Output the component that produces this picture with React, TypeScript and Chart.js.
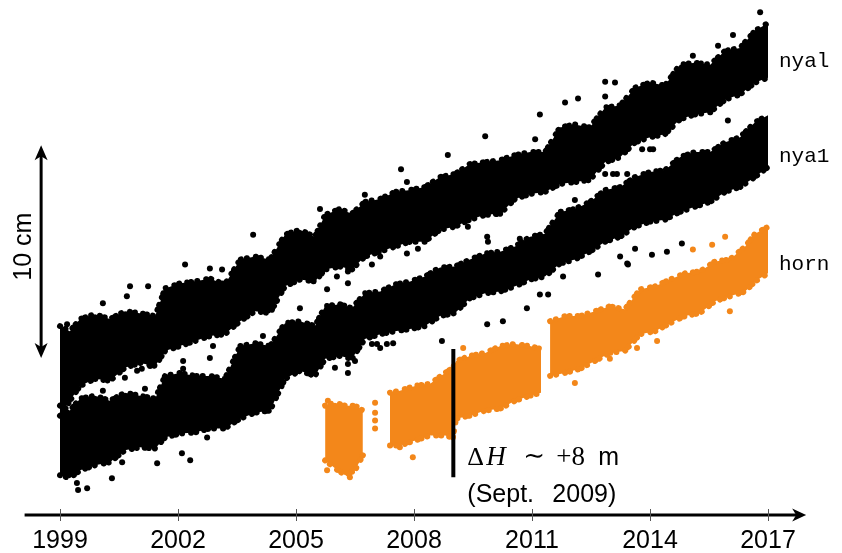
import { useEffect, useRef } from 'react';
import { Chart, registerables } from 'chart.js';

Chart.register(...registerables);

// ---- axis / labels ----
const tickYears = [1999, 2002, 2005, 2008, 2011, 2014, 2017];
const seriesNames = ['nyal', 'nya1', 'horn'];

// ---- sampled cloud envelopes (height in cm) for the two Ny-Ålesund stations ----
const stationYears = [
  1999.0, 1999.25, 1999.51, 1999.89, 2000.27, 2000.65, 2001.03, 2001.42, 2001.67, 2002.05,
  2002.43, 2002.81, 2003.19, 2003.58, 2003.96, 2004.34, 2004.72, 2005.1, 2005.48, 2005.74,
  2006.12, 2006.42, 2006.75, 2007.14, 2007.52, 2007.9, 2008.28, 2008.66, 2009.04, 2009.42,
  2009.81, 2010.19, 2010.57, 2010.95, 2011.33, 2011.71, 2012.09, 2012.47, 2012.86, 2013.24,
  2013.62, 2014.0, 2014.38, 2014.76, 2015.14, 2015.53, 2015.91, 2016.29, 2016.67, 2017.0,
];
const nyalTop = [
  8.88, 8.64, 9.21, 9.44, 9.21, 9.58, 9.49, 9.35, 10.65, 10.89,
  10.98, 11.12, 10.84, 12.01, 12.15, 12.01, 13.18, 13.41, 13.08, 14.11,
  14.39, 14.16, 14.72, 14.86, 15.19, 15.28, 15.42, 15.89, 16.03, 16.5,
  16.59, 16.68, 16.92, 17.06, 17.06, 18.22, 18.36, 18.22, 19.16, 19.25,
  20.09, 20.33, 20.19, 21.17, 21.26, 21.17, 21.82, 21.96, 22.76, 23.13,
];
const nyalBottom = [
  4.67, 5.37, 6.07, 6.4, 6.31, 6.92, 7.15, 7.01, 7.71, 7.94,
  8.18, 8.41, 8.5, 9.11, 9.58, 9.49, 10.75, 11.07, 10.98, 11.54,
  11.68, 11.54, 12.15, 12.38, 12.62, 12.85, 12.85, 13.41, 13.55, 13.88,
  14.11, 14.16, 14.86, 15.09, 15.19, 15.56, 15.65, 15.75, 16.59, 16.82,
  17.52, 17.76, 17.9, 18.6, 18.83, 18.93, 19.53, 19.77, 20.33, 20.56,
];
const nya1Top = [
  5.14, 4.91, 5.47, 5.61, 5.37, 5.75, 5.61, 5.47, 6.54, 6.68,
  6.54, 6.54, 6.4, 7.94, 8.08, 7.94, 9.02, 9.11, 8.88, 9.81,
  9.91, 9.72, 10.42, 10.51, 10.84, 10.98, 11.21, 11.64, 11.68, 12.01,
  12.29, 12.38, 12.62, 13.08, 13.22, 14.25, 14.39, 14.72, 15.28, 15.42,
  15.89, 16.12, 16.21, 16.82, 17.06, 17.06, 17.52, 17.76, 18.46, 18.79,
];
const nya1Bottom = [
  1.87, 1.73, 2.1, 2.34, 2.48, 3.04, 3.18, 3.13, 3.64, 3.83,
  3.88, 4.07, 4.07, 4.53, 4.81, 4.91, 6.4, 6.78, 6.54, 7.34,
  7.48, 7.34, 8.27, 8.5, 8.64, 8.74, 8.88, 9.35, 9.49, 10.19,
  10.42, 10.51, 10.75, 11.07, 11.21, 11.82, 12.01, 12.38, 12.85, 13.08,
  13.55, 13.79, 13.88, 14.25, 14.49, 14.72, 15.19, 15.42, 15.89, 16.36,
];

// ---- horn (null = data gap) ----
const hornYears = [
  2005.74, 2005.99, 2006.25, 2006.5, 2006.7, null,
  2007.39, 2007.64, 2008.03, 2008.41, 2008.79, 2008.99, 2009.07, 2009.42, 2009.81, 2010.19, 2010.57, 2010.95, 2011.23, null,
  2011.46, 2011.84, 2012.22, 2012.6, 2012.98, 2013.36, 2013.75, 2014.13, 2014.51, 2014.89, 2015.27, 2015.65, 2016.03, 2016.42, 2016.67, 2017.0,
];
const hornTop = [
  5.14, 5.28, 5.14, 5.14, 4.91, null,
  5.75, 5.84, 6.07, 6.17, 6.68, 6.92, 7.24, 7.48, 7.62, 7.94, 8.04, 7.94, 7.8, null,
  9.11, 9.35, 9.35, 9.58, 9.81, 9.67, 10.61, 10.75, 11.07, 11.36, 11.45, 11.92, 12.01, 12.62, 13.22, 13.55,
];
const hornBottom = [
  2.57, 2.2, 1.87, 2.1, 2.8, null,
  3.27, 3.27, 3.5, 3.74, 3.74, 3.64, 4.53, 4.67, 4.91, 5.0, 5.37, 5.61, 5.75, null,
  6.54, 6.68, 6.87, 7.24, 7.62, 7.71, 8.5, 8.64, 9.02, 9.35, 9.49, 10.05, 10.28, 10.51, 10.98, 11.36,
];

// ---- scattered points outside the dense clouds ----
const nyalOutYears = [
  2001.08, 2000.96, 2001.29, 2000.65, 2001.16, 2002.13, 2002.13, 2002.81, 2002.89, 2000.19,
  2000.09, 2000.78, 2001.24, 2000.09, 2000.7, 1999.18, 2002.18, 2002.81, 2003.12, 2003.91,
  2007.67, 2007.82, 2006.75, 2005.61, 2005.79, 2006.04, 2006.32, 2006.32, 2006.32, 2006.93,
  2007.14, 2007.82, 2008.1, 2005.1, 2009.81, 2008.86, 2011.08, 2009.37, 2009.86, 2010.69,
  2012.09, 2013.06, 2012.86, 2012.86, 2011.84, 2012.17, 2011.2, 2016.8, 2016.11, 2015.73,
  2015.09, 2013.11, 2014.0, 2014.08, 2015.98, 2013.8,
];
const nyalOutCm = [
  6.87, 6.78, 7.01, 6.45, 5.93, 7.24, 6.87, 7.38, 7.94, 6.45,
  5.84, 10.75, 10.75, 9.95, 10.28, 8.97, 11.78, 11.59, 11.54, 13.18,
  16.26, 15.65, 15.05, 14.39, 10.61, 11.21, 11.82, 11.45, 10.89, 11.78,
  12.15, 12.29, 12.52, 9.72, 17.8, 16.92, 17.66, 13.55, 13.08, 12.99,
  14.81, 16.03, 20.37, 19.67, 19.39, 19.58, 18.83, 23.64, 22.57, 22.06,
  21.59, 20.33, 17.2, 17.2, 18.55, 17.2,
];
const nya1OutYears = [
  1999.43, 1999.46, 1999.69, 2000.32, 2000.58, 2001.47, 2002.1, 2002.31, 2002.74, 2005.99,
  2006.32, 2006.32, 2006.5, 2007.06, 2007.31, 2007.47, 2004.16, 2004.34, 2008.71, 2009.86,
  2010.26, 2011.2, 2011.41, 2012.68, 2011.79, 2009.88, 2013.24, 2013.42, 2014.43, 2014.05,
  2013.62, 2014.81, 2012.86, 2013.16, 2013.42, 2013.44, 2010.87, 2006.93, 2007.14,
];
const nya1OutCm = [
  1.5, 1.17, 1.26, 1.73, 2.48, 2.43, 2.9, 2.57, 3.64, 6.92,
  7.1, 6.68, 7.24, 8.04, 8.04, 8.08, 8.41, 7.85, 8.18, 8.97,
  9.11, 10.37, 10.37, 11.31, 11.21, 12.85, 12.15, 11.82, 12.38, 12.24,
  12.52, 12.76, 16.03, 16.03, 16.03, 11.78, 9.72, 8.04, 7.85,
];
const hornOutYears = [
  2012.09, 2013.67, 2012.98, 2014.18, 2016.03, 2015.58, 2015.91, 2015.09, 2005.81, 2007.97,
  2007.64, 2006.37, 2005.79, 2007.01, 2007.01, 2007.01, 2007.01, 2009.25,
];
const hornOutCm = [
  6.21, 7.85, 7.34, 8.18, 9.58, 12.71, 13.08, 12.48, 5.37, 2.71,
  3.18, 1.78, 2.1, 5.28, 4.81, 4.44, 4.07, 7.85,
];

// ---- annotation values ----
const scaleBarCm = 10;
const scaleBarBottomCm = 7.38;
const antennaChangeYear = 2009.0;
const antennaLineCm = [1.78, 7.8];
const seriesLabelCm = [21.08, 16.59, 11.54];

const BLACK = '#000000';
const ORANGE = '#f3871a';

export default function App() {
  const ref = useRef<HTMLCanvasElement>(null);

  useEffect(() => {
    const canvas = ref.current;
    if (!canvas) return;

    const datasets: any[] = [];

    const addBand = (years: (number | null)[], top: (number | null)[], bottom: (number | null)[], color: string) => {
      let segT: { x: number; y: number }[] = [];
      let segB: { x: number; y: number }[] = [];
      const flush = () => {
        if (segT.length) {
          const common = {
            borderColor: color,
            backgroundColor: color,
            borderWidth: 6,
            borderDash: [0.1, 6, 0.1, 9, 0.1, 5, 0.1, 8, 0.1, 4],
            borderCapStyle: 'round',
            pointRadius: 0,
            pointHoverRadius: 0,
            showLine: true,
            clip: false,
            tension: 0,
          };
          datasets.push({ ...common, data: segT, fill: false });
          datasets.push({ ...common, data: segB, fill: '-1' });
        }
        segT = [];
        segB = [];
      };
      years.forEach((yr, i) => {
        if (yr === null || top[i] === null || bottom[i] === null) {
          flush();
        } else {
          segT.push({ x: yr, y: top[i] as number });
          segB.push({ x: yr, y: bottom[i] as number });
        }
      });
      flush();
    };

    addBand(stationYears, nyalTop, nyalBottom, BLACK);
    addBand(stationYears, nya1Top, nya1Bottom, BLACK);
    addBand(hornYears, hornTop, hornBottom, ORANGE);

    const addPoints = (xs: number[], ys: number[], color: string) => {
      datasets.push({
        data: xs.map((x, i) => ({ x, y: ys[i] })),
        showLine: false,
        pointRadius: 3,
        pointHoverRadius: 3,
        pointBorderWidth: 0,
        pointBackgroundColor: color,
        borderColor: color,
        backgroundColor: color,
        clip: false,
        fill: false,
      });
    };
    addPoints(nyalOutYears, nyalOutCm, BLACK);
    addPoints(nya1OutYears, nya1OutCm, BLACK);
    addPoints(hornOutYears, hornOutCm, ORANGE);

    const annot = {
      id: 'annot',
      afterDatasetsDraw(chart: any) {
        const { ctx, scales } = chart;
        const x = scales.x;
        const y = scales.y;
        const ay = chart.chartArea.bottom;
        ctx.save();

        // x axis line with arrow
        ctx.strokeStyle = BLACK;
        ctx.fillStyle = BLACK;
        ctx.lineWidth = 3;
        const xs = x.getPixelForValue(1998.1);
        const xe = x.getPixelForValue(2017.97);
        ctx.beginPath();
        ctx.moveTo(xs, ay);
        ctx.lineTo(xe - 8, ay);
        ctx.stroke();
        ctx.beginPath();
        ctx.moveTo(xe, ay);
        ctx.lineTo(xe - 14, ay - 6.5);
        ctx.lineTo(xe - 10, ay);
        ctx.lineTo(xe - 14, ay + 6.5);
        ctx.closePath();
        ctx.fill();

        // tick marks
        ctx.strokeStyle = '#555';
        ctx.lineWidth = 1;
        tickYears.forEach((t) => {
          const px = Math.round(x.getPixelForValue(t)) + 0.5;
          ctx.beginPath();
          ctx.moveTo(px, ay - 6);
          ctx.lineTo(px, ay + 6);
          ctx.stroke();
        });

        // 10 cm scale bar
        const bx = x.getPixelForValue(1998.52);
        const by0 = y.getPixelForValue(scaleBarBottomCm);
        const by1 = y.getPixelForValue(scaleBarBottomCm + scaleBarCm);
        ctx.strokeStyle = BLACK;
        ctx.lineWidth = 3;
        ctx.beginPath();
        ctx.moveTo(bx, by1 + 10);
        ctx.lineTo(bx, by0 - 10);
        ctx.stroke();
        ctx.beginPath();
        ctx.moveTo(bx, by1);
        ctx.lineTo(bx - 6.5, by1 + 15);
        ctx.lineTo(bx, by1 + 11);
        ctx.lineTo(bx + 6.5, by1 + 15);
        ctx.closePath();
        ctx.fill();
        ctx.beginPath();
        ctx.moveTo(bx, by0);
        ctx.lineTo(bx - 6.5, by0 - 15);
        ctx.lineTo(bx, by0 - 11);
        ctx.lineTo(bx + 6.5, by0 - 15);
        ctx.closePath();
        ctx.fill();

        ctx.save();
        ctx.translate(bx - 19, (by0 + by1) / 2 - 5);
        ctx.rotate(-Math.PI / 2);
        ctx.font = '25px "Liberation Sans"';
        ctx.textAlign = 'center';
        ctx.textBaseline = 'alphabetic';
        ctx.fillText('10 cm', 0, 9);
        ctx.restore();

        // antenna change line
        const lx = x.getPixelForValue(antennaChangeYear);
        ctx.lineWidth = 4;
        ctx.beginPath();
        ctx.moveTo(lx, y.getPixelForValue(antennaLineCm[1]));
        ctx.lineTo(lx, y.getPixelForValue(antennaLineCm[0]));
        ctx.stroke();

        // Delta H text
        const base1 = 465;
        ctx.textAlign = 'left';
        ctx.textBaseline = 'alphabetic';
        ctx.font = '26px "Liberation Serif"';
        ctx.fillText('\u0394', lx + 14, base1);
        ctx.font = 'italic 27px "Liberation Serif"';
        ctx.fillText('H', lx + 33, base1);
        ctx.font = '26px "DejaVu Serif"';
        ctx.fillText('\u223C', lx + 70, base1 - 1);
        ctx.font = '27px "Liberation Serif"';
        ctx.fillText('+8', lx + 103, base1);
        ctx.font = '25px "Liberation Sans"';
        ctx.fillText('m', lx + 145, base1);
        ctx.font = '25px "Liberation Sans"';
        ctx.fillText('(Sept.', lx + 14, 502);
        ctx.fillText('2009)', lx + 99, 502);

        // series labels
        ctx.font = '21px "Liberation Mono"';
        const labX = x.getPixelForValue(2017) + 11;
        seriesNames.forEach((n, i) => {
          ctx.fillText(n, labX, y.getPixelForValue(seriesLabelCm[i]));
        });

        ctx.restore();
      },
    };

    const chart = new Chart(canvas, {
      type: 'line',
      data: { datasets },
      options: {
        responsive: false,
        maintainAspectRatio: false,
        animation: false,
        events: [],
        layout: { padding: { left: 60, right: 74, top: 0, bottom: 0 } },
        plugins: {
          legend: { display: false },
          tooltip: { enabled: false },
        },
        scales: {
          x: {
            type: 'linear',
            min: 1999,
            max: 2017,
            afterBuildTicks: (s: any) => {
              s.ticks = tickYears.map((v) => ({ value: v }));
            },
            afterFit: (s: any) => {
              s.height = 38;
            },
            ticks: {
              autoSkip: false,
              maxRotation: 0,
              color: BLACK,
              padding: 11,
              font: { family: 'Liberation Sans', size: 25 },
              callback: (v: any) => String(v),
            },
            grid: { display: false, drawTicks: false },
            border: { display: false },
          },
          y: {
            type: 'linear',
            display: false,
            min: 0,
            max: 24.07,
          },
        },
      } as any,
      plugins: [annot],
    });

    return () => chart.destroy();
  }, []);

  return (
    <div style={{ position: 'absolute', left: 0, top: 0, width: 842, height: 553, background: '#fff' }}>
      <canvas ref={ref} width={842} height={553} style={{ width: 842, height: 553, display: 'block' }} />
    </div>
  );
}
